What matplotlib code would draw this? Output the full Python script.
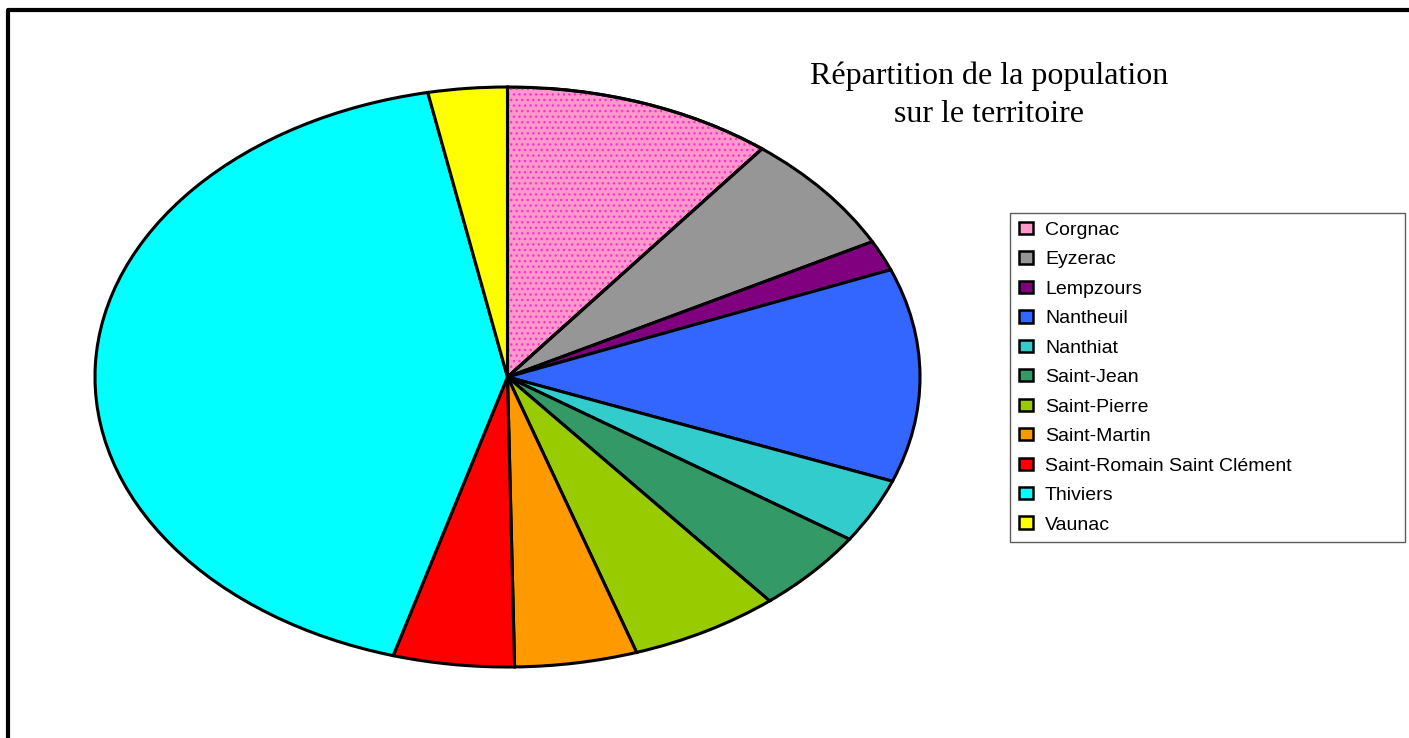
import matplotlib
matplotlib.use("Agg")
import matplotlib.pyplot as plt
from matplotlib.patches import Wedge
from matplotlib.lines import Line2D

communes = ["Corgnac", "Eyzerac", "Lempzours", "Nantheuil", "Nanthiat",
            "Saint-Jean", "Saint-Pierre", "Saint-Martin",
            "Saint-Romain Saint Clément", "Thiviers", "Vaunac"]
population_pct = [10.6, 6.7, 1.7, 11.9, 3.6, 4.6, 5.9, 4.8, 4.75, 42.5, 3.1]
colors = ["#FF99CC", "#969696", "#800080", "#3366FF", "#33CCCC",
          "#339966", "#99CC00", "#FF9900", "#FF0000", "#00FFFF", "#FFFF00"]
title = "Répartition de la population\nsur le territoire"

W, H = 1409, 738
fig = plt.figure(figsize=(W / 100, H / 100), dpi=100)
fig.patch.set_facecolor("white")

# pie area (ellipse) in pixels
px0, px1, py0, py1 = 95, 920, 87, 667
ax = fig.add_axes([px0 / W, 1 - py1 / H, (px1 - px0) / W, (py1 - py0) / H])
wedges, _ = ax.pie(population_pct, colors=colors, startangle=90,
                   counterclock=False,
                   wedgeprops=dict(edgecolor="black", linewidth=2.2))
ax.set_aspect("auto")
ax.set_xlim(-1, 1)
ax.set_ylim(-1, 1)
ax.axis("off")

# dotted pattern on Corgnac
w0 = wedges[0]
plt.rcParams["hatch.linewidth"] = 1.0
dots = Wedge(w0.center, w0.r, w0.theta1, w0.theta2, facecolor="none",
             edgecolor="#FF33CC", linewidth=0, hatch="...", zorder=1.5)
ax.add_patch(dots)
edge = Wedge(w0.center, w0.r, w0.theta1, w0.theta2, facecolor="none",
             edgecolor="black", linewidth=2.2, zorder=2)
ax.add_patch(edge)

# title
fig.text(989 / W, 1 - 95 / H, title, ha="center", va="center",
         family="Liberation Serif", fontsize=23, linespacing=1.4)

# legend
lx0, lx1, ly0 = 1010, 1405, 213
leg = fig.legend(wedges, communes, loc="upper left",
                 bbox_to_anchor=(lx0 / W, 1 - ly0 / H, (lx1 - lx0) / W, 0.0),
                 mode="expand",
                 prop=dict(family="Liberation Sans", size=14),
                 frameon=True, fancybox=False, edgecolor="#333333",
                 handlelength=0.75, handleheight=0.6, handletextpad=0.6,
                 labelspacing=0.64, borderpad=0.45, borderaxespad=0)
leg.get_frame().set_linewidth(1)
for h in leg.legend_handles:
    h.set_linewidth(1.8)

# outer frame
x0 = 8 / W
yt = 1 - 10 / H
fig.add_artist(Line2D([x0, x0, 1.01], [-0.01, yt, yt], color="black",
                      linewidth=3, transform=fig.transFigure))

fig.savefig("out.png", dpi=100)
